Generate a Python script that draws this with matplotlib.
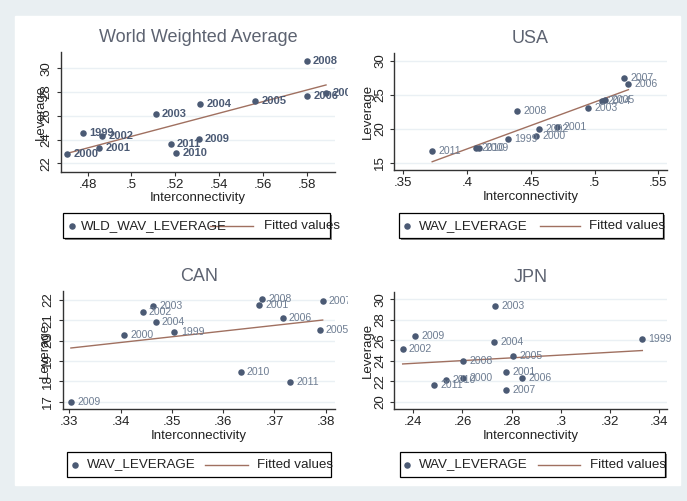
# leverage vs interconnectivity, four panels (world average, USA, CAN, JPN)

import numpy as np
import matplotlib
matplotlib.use('Agg')
import matplotlib.pyplot as plt
from matplotlib.patches import Rectangle
from matplotlib.transforms import Bbox, TransformedBbox

plt.rcParams['font.family'] = ['Liberation Sans', 'DejaVu Sans']

# data
wld_years = ['2000', '1999', '2002', '2001', '2003', '2004', '2005', '2011', '2010', '2009', '2008', '2006', '2007']
wld_x = [0.4707, 0.4777, 0.4867, 0.4853, 0.5110, 0.5313, 0.5564, 0.5179, 0.5203, 0.5307, 0.5800, 0.5803, 0.5888]
wld_y = [22.78, 24.52, 24.29, 23.31, 26.12, 26.96, 27.24, 23.62, 22.84, 24.04, 30.64, 27.71, 27.93]

usa_years = ['2011', '2010', '2009', '1999', '2008', '2000', '2002', '2001', '2003', '2004', '2005', '2007', '2006']
usa_x = [0.3727, 0.4068, 0.4094, 0.4318, 0.4393, 0.4542, 0.4563, 0.4708, 0.4951, 0.5055, 0.5083, 0.5234, 0.5266]
usa_y = [16.72, 17.10, 17.20, 18.43, 22.60, 18.87, 19.95, 20.29, 22.99, 24.07, 24.20, 27.50, 26.52]

can_years = ['2009', '2000', '2002', '2003', '2004', '1999', '2010', '2001', '2008', '2006', '2011', '2007', '2005']
can_x = [0.3303, 0.3407, 0.3443, 0.3464, 0.3468, 0.3505, 0.3634, 0.3670, 0.3676, 0.3716, 0.3731, 0.3794, 0.3788]
can_y = [17.00, 20.28, 21.43, 21.72, 20.93, 20.44, 18.44, 21.74, 22.03, 21.10, 17.95, 21.97, 20.51]

jpn_years = ['2002', '2009', '2011', '2010', '2008', '2000', '2004', '2003', '2001', '2007', '2005', '2006', '1999']
jpn_x = [0.2357, 0.2407, 0.2484, 0.2535, 0.2603, 0.2603, 0.2728, 0.2732, 0.2776, 0.2776, 0.2806, 0.2843, 0.3331]
jpn_y = [25.11, 26.42, 21.66, 22.12, 24.00, 22.31, 25.86, 29.38, 22.87, 21.14, 24.43, 22.31, 26.16]

titles = ['World Weighted Average', 'USA', 'CAN', 'JPN']
series_names = ['WLD_WAV_LEVERAGE', 'WAV_LEVERAGE', 'WAV_LEVERAGE', 'WAV_LEVERAGE']
xticks = [[0.48, 0.50, 0.52, 0.54, 0.56, 0.58],
          [0.35, 0.40, 0.45, 0.50, 0.55],
          [0.33, 0.34, 0.35, 0.36, 0.37, 0.38],
          [0.24, 0.26, 0.28, 0.30, 0.32, 0.34]]
yticks = [[22, 24, 26, 28, 30],
          [15, 20, 25, 30],
          [17, 18, 19, 20, 21, 22],
          [20, 22, 24, 26, 28, 30]]

W, H = 687, 501
MARK = '#4b5a74'
LAB = '#6e7d92'
FIT = '#a07060'
TXT = '#5d6371'

fig = plt.figure(figsize=(W / 100, H / 100), dpi=100)

# background in pixel coords
bg = fig.add_axes([0, 0, 1, 1], zorder=-5)
bg.set_xlim(0, W)
bg.set_ylim(H, 0)
bg.axis('off')
bg.add_patch(Rectangle((0, 0), W, H, color='#e9eff2'))
bg.add_patch(Rectangle((15, 16), 665, 469, color='white'))


def ax_px(l, t, r, b):
    return fig.add_axes([l / W, 1 - b / H, (r - l) / W, (b - t) / H])


def fmt(v):
    s = ('%g' % v)
    return s[1:] if s.startswith('0.') else s


panels = [
    # (data, plot box px, xlim, ylim, ylabel x, clip right, legend box, dot/text/line/fit positions, bold labels)
    ((wld_years, wld_x, wld_y), (60.7, 52.3, 335, 171.7), (0.4677, 0.5929), (21.3, 31.35), 41, 348,
     (63.3, 213.3, 330, 238.3), (71.7, 80.7, 210, 253, 264), True),
    ((usa_years, usa_x, usa_y), (394.3, 53.3, 666.7, 170), (0.343, 0.5566), (13.93, 31.09), 368, 687,
     (399.3, 213.3, 663.3, 238.3), (407, 419, 540, 580, 589), False),
    ((can_years, can_x, can_y), (62.7, 291, 335, 409), (0.3287, 0.3818), (16.64, 22.44), 45, 348,
     (66.7, 452.3, 330.7, 476.7), (75, 86.7, 205, 248, 257), False),
    ((jpn_years, jpn_x, jpn_y), (394.3, 291.7, 666.7, 409), (0.2323, 0.343), (19.29, 30.74), 368, 687,
     (400, 452.3, 665, 476.7), (407.3, 419.3, 538, 580, 590), False),
]

for i, (d, box, xl, yl, ylab_x, clip_r, lbox, lpos, bold) in enumerate(panels):
    years, xs, ys = d
    l, t, r, b = box
    ax = ax_px(l, t, r, b)
    ax.patch.set_alpha(0)
    ax.set_xlim(*xl)
    ax.set_ylim(*yl)
    for s in ['top', 'right']:
        ax.spines[s].set_visible(False)
    for s in ['left', 'bottom']:
        ax.spines[s].set_color('#333333')
        ax.spines[s].set_linewidth(1)
    ax.set_xticks(xticks[i])
    ax.set_xticklabels([fmt(v) for v in xticks[i]])
    ax.set_yticks(yticks[i])
    ax.set_yticklabels([fmt(v) for v in yticks[i]], rotation=90, va='center')
    ax.tick_params(direction='out', length=3, width=0.8, color='#333333',
                   labelsize=9.5, labelcolor='#222222', pad=2)
    ax.tick_params(axis='y', pad=3)
    ax.yaxis.grid(True, color='#eaf0f4', lw=1)
    ax.set_axisbelow(True)

    # fitted line
    k, c = np.polyfit(xs, ys, 1)
    fx = np.array([min(xs), max(xs)])
    ax.plot(fx, k * fx + c, color=FIT, lw=1, zorder=2)

    ax.scatter(xs, ys, s=22, color=MARK, zorder=3, linewidths=0)
    clip = TransformedBbox(Bbox([[0, 0], [clip_r / W, 1]]), fig.transFigure)
    for yr, x, y in zip(years, xs, ys):
        tx = ax.annotate(yr, (x, y), xytext=(4.5, 0), textcoords='offset points',
                         va='center', ha='left', fontsize=8 if bold else 7.6,
                         color=MARK if bold else LAB,
                         fontweight='bold' if bold else 'normal', zorder=4)
        tx.set_clip_box(clip)
        tx.set_clip_on(True)

    # titles and axis labels in pixel positions
    cx = (l + r) / 2
    fig.text(cx / W, 1 - (t - 14.5) / H, titles[i], ha='center', va='center',
             fontsize=13, color=TXT)
    fig.text(cx / W, 1 - (b + 26.8) / H, 'Interconnectivity', ha='center', va='center',
             fontsize=9.5, color='#222222')
    fig.text(ylab_x / W, 1 - ((t + b) / 2) / H, 'Leverage', ha='center', va='center',
             rotation=90, fontsize=9.5, color='#222222')

    # legend box
    x0, y0, x1, y1 = lbox
    bg.add_patch(Rectangle((x0 + 1.5, y0 + 1.5), x1 - x0, y1 - y0, facecolor='#8a8a8a',
                           edgecolor='none', zorder=1))
    bg.add_patch(Rectangle((x0, y0), x1 - x0, y1 - y0, facecolor='white',
                           edgecolor='black', lw=0.9, zorder=2))
    ym = (y0 + y1) / 2
    dot_x, txt_x, ln0, ln1, fit_x = lpos
    bg.scatter([dot_x], [ym], s=22, color=MARK, linewidths=0, zorder=3)
    bg.plot([ln0, ln1], [ym, ym], color=FIT, lw=1, zorder=3)
    bg.text(txt_x, ym, series_names[i], ha='left', va='center', fontsize=9.6,
            color='#222222', zorder=4)
    bg.text(fit_x, ym, 'Fitted values', ha='left', va='center', fontsize=9.6,
            color='#222222', zorder=4)

fig.savefig('out.png', dpi=100)
